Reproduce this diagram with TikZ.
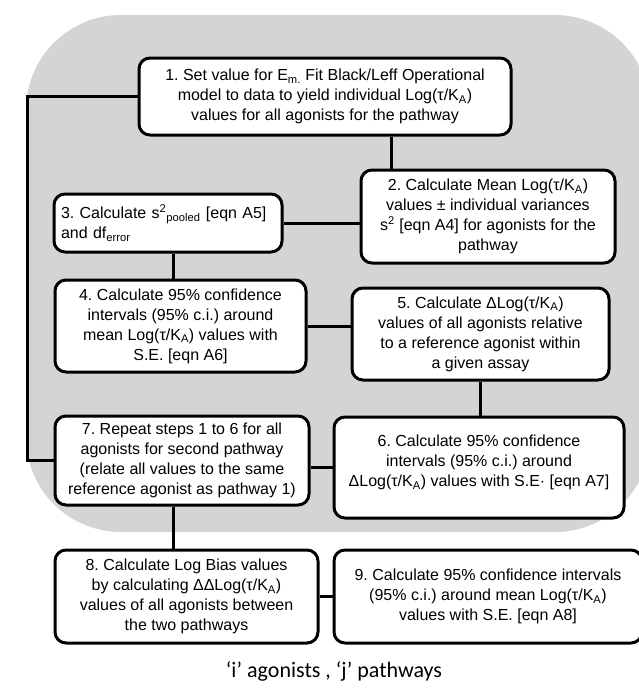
\documentclass[tikz,border=0pt]{standalone}
\usepackage{fontspec}
\setmainfont{Liberation Sans}
\newfontfamily\captionfont{Carlito}
\frenchspacing
\usetikzlibrary{calc}

\begin{document}
\begin{tikzpicture}[
    x=1pt, y=-1pt,
    font=\fontsize{16}{20}\selectfont,
    stage/.style={draw=black, line width=3pt, rounded corners=11pt, fill=white,
                  align=center, inner xsep=1pt, inner ysep=3pt},
    link/.style={line width=3pt, black},
    panel/.style={fill=black!17, rounded corners=95pt}
]
\useasboundingbox (0,0) rectangle (639,691);
\fill[panel] (26,15) rectangle (650,532);

\node[stage, minimum width=372pt, minimum height=77pt] (s1) at (325,96.5)
    {1. Set value for E\textsubscript{m.} Fit Black/Leff Operational\\
     model to data to yield individual Log(τ/K\textsubscript{A})\\
     values for all agonists for the pathway};
\node[stage, minimum width=254pt, minimum height=93pt] (s2) at (488,216.5)
    {2. Calculate Mean Log(τ/K\textsubscript{A})\\
     values ± individual variances\\
     s\textsuperscript{2} [eqn A4] for agonists for the\\
     pathway};
\node[stage, align=left, text width=214pt, inner xsep=7pt,
      minimum height=58pt] (s3) at (168,223)
    {3. Calculate s\textsuperscript{2}\textsubscript{pooled} [eqn A5]\\
     and df\textsubscript{error}};
\node[stage, minimum width=251pt, minimum height=92pt] (s4) at (180.5,326)
    {4. Calculate 95\% confidence\\
     intervals (95\% c.i.) around\\
     mean Log(τ/K\textsubscript{A}) values with\\
     S.E. [eqn A6]};
\node[stage, minimum width=257pt, minimum height=92pt] (s5) at (480.5,334)
    {5. Calculate ΔLog(τ/K\textsubscript{A})\\
     values of all agonists relative\\
     to a reference agonist within\\
     a given assay};
\node[stage, minimum width=290pt, minimum height=101pt] (s6) at (479,467.5)
    {6. Calculate 95\% confidence\\
     intervals (95\% c.i.) around\\
     ΔLog(τ/K\textsubscript{A}) values with S.E· [eqn A7]\\[-7pt]\mbox{}};
\node[stage, minimum width=254pt, minimum height=89pt] (s7) at (182,460.5)
    {7. Repeat steps 1 to 6 for all\\
     agonists for second pathway\\
     (relate all values to the same\\
     reference agonist as pathway 1)};
\node[stage, minimum width=263pt, minimum height=93pt] (s8) at (186.5,596.5)
    {8. Calculate Log Bias values\\
     by calculating ΔΔLog(τ/K\textsubscript{A})\\
     values of all agonists between\\
     the two pathways};
\node[stage, minimum width=308pt, minimum height=93pt] (s9) at (488,596.5)
    {9. Calculate 95\% confidence intervals\\
     (95\% c.i.) around mean Log(τ/K\textsubscript{A})\\
     values with S.E. [eqn A8]};

\draw[link] ([xshift=32pt]s2.north west) -- ([xshift=32pt]s2.north west |- s1.south);
\draw[link] (s3.east) -- (s3.east -| s2.west);
\draw[link] ([xshift=5pt]s3.south) -- ([xshift=5pt]s3.south |- s4.north);
\draw[link] (s4.east) -- (s4.east -| s5.west);
\draw[link] (s5.south) -- (s5.south |- s6.north);
\draw[link] (s6.west) -- (s6.west -| s7.east);
\draw[link] (s1.west) -- ++(-110,0) |- (s7.west);
\draw[link] ([xshift=-9pt]s7.south) -- ([xshift=-9pt]s7.south |- s8.north);
\draw[link] (s8.east) -- (s8.east -| s9.west);

\node[font=\captionfont\fontsize{22}{26}\selectfont] (note) at (334,671)
    {‘i’ agonists , ‘j’ pathways};
\end{tikzpicture}
\end{document}
